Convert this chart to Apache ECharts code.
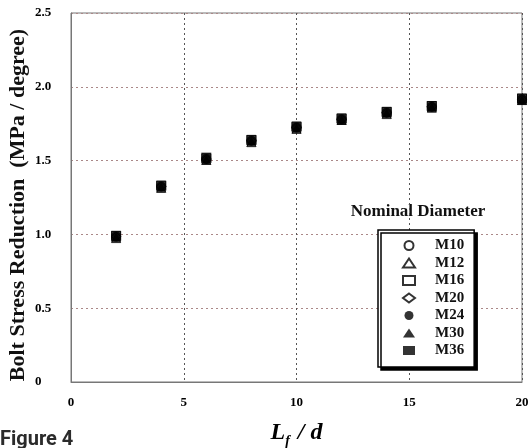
<!DOCTYPE html>
<html>
<head>
    <meta charset="utf-8">
    <title>Figure 4</title>
    <script src="https://cdn.jsdelivr.net/npm/echarts@6/dist/echarts.min.js"></script>
    <style>
        html, body { margin: 0; padding: 0; background: #fff; }
        #chart1 { width: 528px; height: 448px; }
    </style>
</head>
<body>
<div id="chart1"></div>
<script type="text/javascript">
    // 数据 (L_f / d, 应力降低)
    var lfd = [2, 4, 6, 8, 10, 12, 14, 16, 20];
    var m10 = [0.985, 1.325, 1.51, 1.635, 1.725, 1.78, 1.825, 1.865, 1.915];
    var m12 = [0.975, 1.315, 1.505, 1.625, 1.715, 1.775, 1.815, 1.86, 1.91];
    var m16 = [0.99, 1.33, 1.515, 1.64, 1.73, 1.785, 1.83, 1.87, 1.92];
    var m20 = [0.985, 1.325, 1.51, 1.635, 1.725, 1.78, 1.825, 1.865, 1.915];
    var m24 = [0.985, 1.325, 1.51, 1.635, 1.725, 1.78, 1.825, 1.865, 1.915];
    var m30 = [0.98, 1.32, 1.505, 1.63, 1.72, 1.775, 1.82, 1.86, 1.91];
    var m36 = [0.99, 1.33, 1.52, 1.64, 1.73, 1.785, 1.83, 1.87, 1.92];
    var names = ['M10', 'M12', 'M16', 'M20', 'M24', 'M30', 'M36'];
    var symbols = ['circle', 'triangle', 'rect', 'diamond', 'circle', 'triangle', 'rect'];
    var filled = [false, false, false, false, true, true, true];
    var values = [m10, m12, m16, m20, m24, m30, m36];

    var serif = "'Liberation Serif', 'Times New Roman', serif";

    var series = names.map(function (n, i) {
        return {
            name: n,
            type: 'scatter',
            symbol: symbols[i],
            symbolSize: filled[i] ? 10 : 9,
            itemStyle: {
                color: filled[i] ? '#000' : '#fff',
                borderColor: '#000',
                borderWidth: filled[i] ? 0 : 1
            },
            data: lfd.map(function (x, k) { return [x, values[i][k]]; })
        };
    });

    var myChart1 = echarts.init(document.getElementById('chart1'));
    myChart1.setOption({
        animation: false,
        backgroundColor: '#fff',
        grid: {
            left: 71, right: 6, top: 13, bottom: 66,
            outerBoundsMode: 'none', containLabel: false,
            show: true, borderColor: '#777', borderWidth: 1
        },
        xAxis: {
            type: 'value', min: 0, max: 20, interval: 5,
            name: '{a|L}{s|f}{a| / d}',
            nameLocation: 'middle', nameGap: 36,
            nameTextStyle: {
                rich: {
                    a: { fontFamily: serif, fontStyle: 'italic', fontWeight: 'bold', fontSize: 24, color: '#000' },
                    s: { fontFamily: serif, fontStyle: 'italic', fontWeight: 'bold', fontSize: 14, color: '#000', padding: [16, 2, 0, 0] }
                }
            },
            axisLine: { show: true, lineStyle: { color: '#777' } },
            axisTick: { show: false },
            axisLabel: { margin: 14, fontFamily: serif, fontWeight: 'bold', fontSize: 13, color: '#000' },
            splitLine: { show: true, lineStyle: { type: [2, 3], color: '#555' } }
        },
        yAxis: {
            type: 'value', min: 0, max: 2.5, interval: 0.5,
            axisLine: { show: true, lineStyle: { color: '#777' } },
            axisTick: { show: false },
            axisLabel: {
                align: 'left', margin: 36,
                fontFamily: serif, fontWeight: 'bold', fontSize: 13, color: '#000',
                formatter: function (v) { return v === 0 ? '0' : v.toFixed(1); }
            },
            splitLine: { show: true, lineStyle: { type: [2, 3], color: '#a88' } }
        },
        legend: {
            orient: 'vertical',
            left: 378, top: 230,
            data: names,
            itemWidth: 12, itemHeight: 9, itemGap: 2.5,
            padding: [8, 10, 9, 24],
            backgroundColor: '#fff',
            borderColor: '#000', borderWidth: 1.5,
            shadowColor: '#000', shadowBlur: 0, shadowOffsetX: 3, shadowOffsetY: 3,
            textStyle: { fontFamily: serif, fontWeight: 'bold', fontSize: 15, color: '#111', padding: [0, 0, 0, 15] }
        },
        graphic: [
            {
                type: 'text', x: 418, y: 212,
                style: { text: 'Nominal Diameter', font: 'bold 17px ' + serif, fill: '#111', align: 'center', verticalAlign: 'middle' }
            },
            {
                type: 'text', x: 18, y: 205, rotation: Math.PI / 2,
                style: { text: 'Bolt Stress Reduction  (MPa / degree)', font: 'bold 22px ' + serif, fill: '#111', align: 'center', verticalAlign: 'middle' }
            },
            {
                type: 'text', x: 0, y: 440,
                style: { text: 'Figure 4', font: 'bold 20px Roboto, sans-serif', fill: '#2b2b2b', align: 'left', verticalAlign: 'middle' }
            }
        ],
        series: series
    });
</script>
</body>
</html>
